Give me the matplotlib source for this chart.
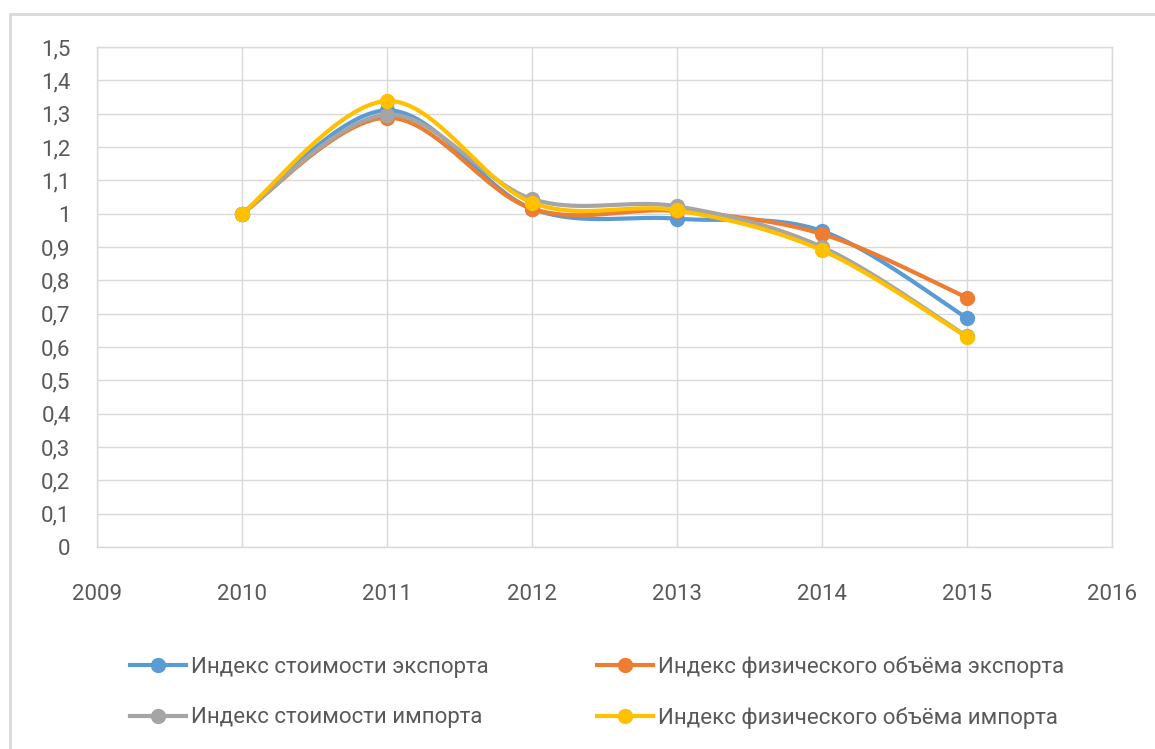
import numpy as np
import matplotlib
matplotlib.use("Agg")
import matplotlib.pyplot as plt
from matplotlib.patches import Rectangle
from matplotlib.lines import Line2D

plt.rcParams['font.family'] = ['Roboto', 'DejaVu Sans']

years = [2010, 2011, 2012, 2013, 2014, 2015]
export_value = [1.00, 1.31, 1.015, 0.985, 0.948, 0.687]
export_volume = [1.00, 1.288, 1.015, 1.008, 0.939, 0.748]
import_value = [1.00, 1.297, 1.044, 1.022, 0.900, 0.632]
import_volume = [1.00, 1.338, 1.033, 1.010, 0.890, 0.630]

series_names = [
    "Индекс стоимости экспорта",
    "Индекс физического объёма экспорта",
    "Индекс стоимости импорта",
    "Индекс физического объёма импорта",
]
series_values = [export_value, export_volume, import_value, import_volume]
series_colors = ["#5b9bd5", "#ed7d31", "#a5a5a5", "#ffc000"]

x_ticks = [2009, 2010, 2011, 2012, 2013, 2014, 2015, 2016]
y_ticks = [round(0.1 * i, 1) for i in range(16)]

GRID = "#d9d9d9"
TEXT = "#595959"


def smooth_curve(xs, ys, n=40):
    """Cubic Bezier spline through the points (Catmull-Rom style tangents)."""
    p = np.column_stack([xs, ys]).astype(float)
    out = []
    for i in range(len(p) - 1):
        p0 = p[i - 1] if i > 0 else p[i]
        p1, p2 = p[i], p[i + 1]
        p3 = p[i + 2] if i + 2 < len(p) else p[i + 1]
        c1 = p1 + (p2 - p0) / 6.0
        c2 = p2 - (p3 - p1) / 6.0
        t = np.linspace(0, 1, n)[:, None]
        seg = ((1 - t) ** 3) * p1 + 3 * ((1 - t) ** 2) * t * c1 \
            + 3 * (1 - t) * t ** 2 * c2 + t ** 3 * p2
        out.append(seg if i == 0 else seg[1:])
    c = np.vstack(out)
    return c[:, 0], c[:, 1]


W, H = 1155, 749
fig = plt.figure(figsize=(W / 100, H / 100), dpi=100)
ax = fig.add_axes([97 / W, 1 - 547 / H, (1112 - 97) / W, (547 - 47) / H])

for k, (vals, col) in enumerate(zip(series_values, series_colors)):
    cx, cy = smooth_curve(years, vals)
    ax.plot(cx, cy, color=col, lw=3.0, solid_capstyle='round', zorder=3 + k)
    ax.plot(years, vals, ls='none', marker='o', ms=10, color=col,
            zorder=3 + k + 0.5)

ax.set_xlim(2009, 2016)
ax.set_ylim(0, 1.5)
ax.set_xticks(x_ticks)
ax.set_xticklabels([str(v) for v in x_ticks])
ax.set_yticks(y_ticks)
ax.set_yticklabels([f"{v:g}".replace('.', ',') for v in y_ticks])
ax.grid(True, color=GRID, lw=1.0)
ax.set_axisbelow(True)
for s in ax.spines.values():
    s.set_color(GRID)
    s.set_linewidth(1.0)
ax.tick_params(axis='both', length=0, colors=TEXT, labelsize=16)
ax.tick_params(axis='y', pad=19)
ax.tick_params(axis='x', pad=27)

# legend entries, two columns by two rows
positions = [(130, 667), (597, 667), (130, 718), (597, 718)]
for name, col, (px, py) in zip(series_names, series_colors, positions):
    h = Line2D([], [], color=col, lw=3.0, marker='o', ms=10)
    leg = fig.legend([h], [name], loc='center left',
                     bbox_to_anchor=(px / W, 1 - py / H),
                     frameon=False, fontsize=16, borderpad=0,
                     borderaxespad=0, handlelength=2.5, handletextpad=0.25)
    for t in leg.get_texts():
        t.set_color(TEXT)

# outer chart frame
fig.add_artist(Rectangle((10 / W, -0.1), 2.0, (1 - 14 / H) + 0.1,
                         transform=fig.transFigure, fill=False,
                         ec=GRID, lw=2.0))

fig.savefig("out.png", dpi=100, facecolor='white')
